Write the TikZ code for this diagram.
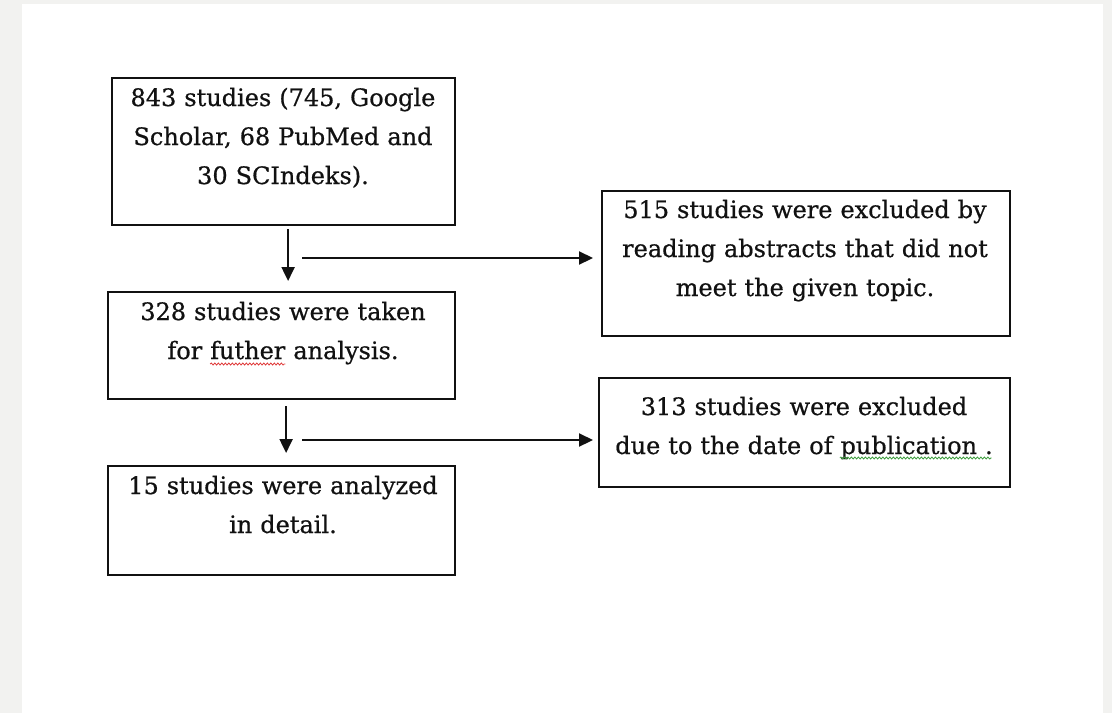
\documentclass[tikz,border=0pt]{standalone}
\usepackage{fontspec}
\setmainfont[FakeBold=0.6]{DejaVu Serif}
\usetikzlibrary{arrows.meta,decorations.pathmorphing,calc}
\definecolor{pagegray}{HTML}{F2F2F0}
\definecolor{txt}{HTML}{111111}
\definecolor{spellred}{HTML}{E03A3A}
\definecolor{spellgreen}{HTML}{3E9E3E}
\newlength\wA \newlength\pA \newlength\fA
\newlength\wB \newlength\pB \newlength\fB
\newcommand\boxfont{\fontsize{24}{39}\selectfont}
\begin{document}
\settowidth\wA{\boxfont for futher analysis.}%
\settowidth\pA{\boxfont for }%
\settowidth\fA{\boxfont futher}%
\settowidth\wB{\boxfont due to the date of publication .}%
\settowidth\pB{\boxfont due to the date of }%
\settowidth\fB{\boxfont publication .}%
\begin{tikzpicture}[x=1pt,y=-1pt,
  box/.style={draw=txt, line width=2.2pt, rectangle, inner sep=0pt, anchor=north west},
  txtnode/.style={anchor=base, inner sep=0pt, text width=440pt, align=center, font=\boxfont, text=txt},
  arr/.style={draw=txt, line width=2.2pt, -{Triangle[length=14pt,width=13pt]}},
  wave/.style={line width=0.8pt, decorate, decoration={snake, segment length=3.5pt, amplitude=1pt}}]
\useasboundingbox (0,0) rectangle (1112,713);
\fill[pagegray] (0,0) rectangle (1112,713);
\fill[white] (22,4) rectangle (1103,713);
% boxes
\node[box, minimum width=343pt, minimum height=147pt] (b1) at (111,77) {};
\node[box, minimum width=347pt, minimum height=107pt] (b2) at (107,291) {};
\node[box, minimum width=347pt, minimum height=109pt] (b3) at (107,465) {};
\node[box, minimum width=408pt, minimum height=145pt] (b4) at (601,190) {};
\node[box, minimum width=411pt, minimum height=109pt] (b5) at (598,377) {};
% texts
\node[txtnode] (t1) at (283,106) {843 studies (745, Google\\Scholar, 68 PubMed and\\30 SCIndeks).};
\node[txtnode] (t2) at (283,320) {328 studies were taken\\for futher analysis.};
\node[txtnode] (t3) at (283,494) {15 studies were analyzed\\in detail.};
\node[txtnode] (t4) at (805,218) {515 studies were excluded by\\reading abstracts that did not\\meet the given topic.};
\node[txtnode] (t5) at (804,415) {313 studies were excluded\\due to the date of publication .};
% spelling marks
\draw[wave, spellred] ([xshift=-0.5\wA+\pA, yshift=-44pt]t2.base) -- ++(\fA,0pt);
\draw[wave, spellgreen] ([xshift=-0.5\wB+\pB, yshift=-43pt]t5.base) -- ++(\fB,0pt);
% connectors
\draw[arr, shorten >=10pt] ([xshift=4.5pt,yshift=-3pt]b1.south) coordinate (v1) -- (v1 |- b2.north);
\draw[arr, shorten >=12pt] ([xshift=4.5pt,yshift=-6pt]b2.south) coordinate (v2) -- (v2 |- b3.north);
\coordinate (h1) at (302,258);
\coordinate (h2) at (302,440);
\draw[arr, shorten >=8pt] (h1) -- (h1 -| b4.west);
\draw[arr, shorten >=5pt] (h2) -- (h2 -| b5.west);
\end{tikzpicture}
\end{document}
